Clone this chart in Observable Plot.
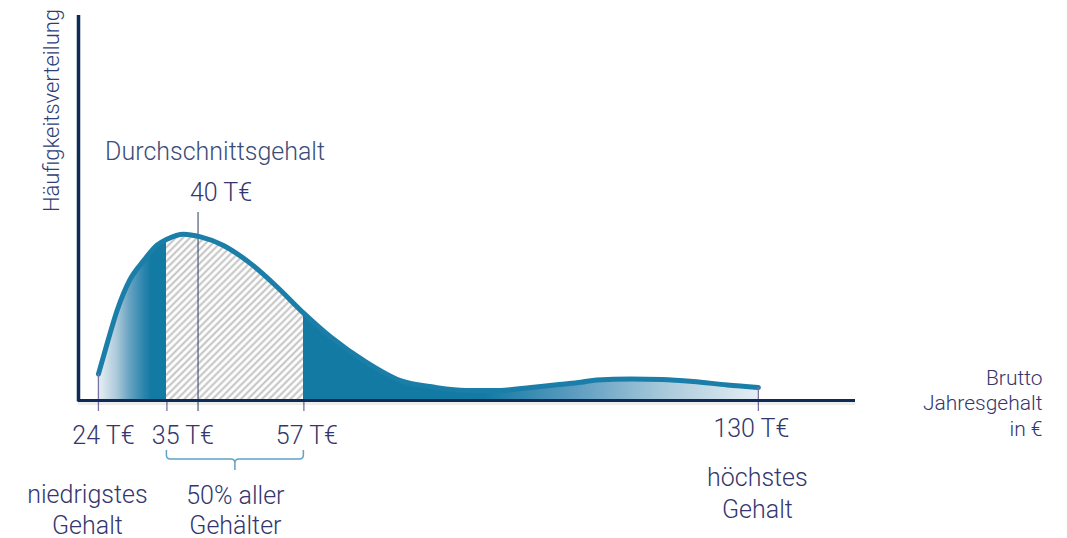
<!DOCTYPE html>
<html>
<head>
<meta charset="utf-8">
<script src="https://cdn.jsdelivr.net/npm/d3@7"></script>
<script src="https://cdn.jsdelivr.net/npm/@observablehq/plot@0.6"></script>
<style>
  html, body { margin: 0; padding: 0; background: #fff; }
  #chart svg { display: block; }
</style>
</head>
<body>
<div id="chart"></div>
<script>
// ---- data ----
const salary = [24, 25.4, 27, 29, 31.3, 33.4, 35, 37.7, 40.4, 44, 48.4, 52.7, 57, 61.3, 67, 72.5, 78, 83, 88.5, 93.5, 98, 101.5, 104, 109.5, 114.5, 119.5, 125, 130];
const freq   = [16, 34.5, 54.5, 72.7, 84.8, 94, 97.6, 100.6, 99, 94, 83, 68.7, 52.7, 38.4, 23.2, 12, 8, 6.1, 6.1, 7.9, 9.7, 11, 12.4, 13, 12.7, 11.5, 9.4, 7.9];
const markedSalaries = [24, 35, 57, 130];
const markedLabels = ["24 T€", "35 T€", "57 T€", "130 T€"];
const averageSalary = 40;
const averageLabel = "40 T€";
const averageTitle = "Durchschnittsgehalt";
const quartileRange = [35, 57];
const quartileLabel = "50% aller\nGehälter";
const lowLabel = "niedrigstes\nGehalt";
const highLabel = "höchstes\nGehalt";
const yTitle = "Häufigkeitsverteilung";
const xTitle = "Brutto\nJahresgehalt\nin €";

// scale extents
const xDomain = [20.8, 145.6];
const yDomain = [0, 233];

const table = salary.map((s, i) => ({salary: s, freq: freq[i]}));
const ends = [table[0], table[table.length - 1]];

const FONT = "Roboto, 'Liberation Sans', sans-serif";
const TXT = "#35366e";
const TEAL = "#137aa3";
const CURVE = "monotone-x";

const textBase = {fontFamily: FONT, fontWeight: 300, fill: TXT, lineAnchor: "bottom"};

const plot = Plot.plot({
  width: 1067,
  height: 538,
  marginLeft: 78,
  marginRight: 212,
  marginTop: 15,
  marginBottom: 138,
  x: {domain: xDomain, axis: null},
  y: {domain: yDomain, axis: null},
  style: {background: "#fff", overflow: "visible", fontFamily: FONT},
  marks: [
    // hatched layer (visible only where the gradient layer is transparent)
    Plot.areaY(table, {x: "salary", y: "freq", curve: CURVE, fill: "url(#hatch)"}),
    // gradient / solid teal layer
    Plot.areaY(table, {x: "salary", y: "freq", curve: CURVE, fill: "url(#areaGrad)"}),
    // average line
    Plot.ruleX([averageSalary], {stroke: "#2b3b62", strokeWidth: 1, insetTop: 197, insetBottom: -11}),
    // curve
    Plot.line(table, {x: "salary", y: "freq", curve: CURVE, stroke: "#1a7ea8", strokeWidth: 5}),
    // ticks
    Plot.ruleX(quartileRange, {y1: 0, y2: 0, insetBottom: -11, stroke: "#7674a6", strokeWidth: 1.3}),
    Plot.ruleX(ends, {x: "salary", y1: "freq", y2: 0, insetBottom: -11, stroke: "#7674a6", strokeWidth: 1.3}),
    // axis shadow + axes
    Plot.ruleY([0], {stroke: "#000", strokeOpacity: 0.07, strokeWidth: 3, dy: 3}),
    Plot.ruleY([0], {stroke: "#0c2b55", strokeWidth: 3}),
    Plot.ruleX([xDomain[0]], {stroke: "#0c2b55", strokeWidth: 3.5, insetBottom: -1.5}),
    // tick labels
    Plot.text([markedSalaries[0]], {...textBase, x: d => d, text: [markedLabels[0]], frameAnchor: "bottom", dy: 43, dx: 5, fontSize: 25}),
    Plot.text([markedSalaries[1]], {...textBase, x: d => d, text: [markedLabels[1]], frameAnchor: "bottom", dy: 43, dx: 16, fontSize: 25}),
    Plot.text([markedSalaries[2]], {...textBase, x: d => d, text: [markedLabels[2]], frameAnchor: "bottom", dy: 43, dx: 3, fontSize: 25}),
    Plot.text([markedSalaries[3]], {...textBase, x: d => d, text: [markedLabels[3]], frameAnchor: "bottom", dy: 36, dx: -7, fontSize: 25}),
    // average labels
    Plot.text([averageSalary], {...textBase, x: d => d, text: [averageLabel], frameAnchor: "top", dy: 185, dx: 23, fontSize: 25}),
    Plot.text([averageSalary], {...textBase, x: d => d, text: [averageTitle], frameAnchor: "top", dy: 144, dx: 17, fontSize: 25, fill: "#3a4d78"}),
    // lower annotations
    Plot.text([markedSalaries[0]], {...textBase, x: d => d, text: [lowLabel], frameAnchor: "bottom", dy: 133, dx: -11, fontSize: 25, lineHeight: 1.24}),
    Plot.text([d3.mean(quartileRange)], {...textBase, x: d => d, text: [quartileLabel], frameAnchor: "bottom", dy: 133, fontSize: 25, lineHeight: 1.2}),
    Plot.text([markedSalaries[3]], {...textBase, x: d => d, text: [highLabel], frameAnchor: "bottom", dy: 117, dx: -1, fontSize: 25, lineHeight: 1.28}),
    // axis titles
    Plot.text([xTitle], {...textBase, text: d => d, frameAnchor: "bottom-right", dx: 187, dy: 35, textAnchor: "end", fontSize: 21, lineHeight: 1.2}),
    Plot.text([yTitle], {fontFamily: FONT, fontWeight: 300, fill: "#2f3e78", text: d => d, frameAnchor: "top-left", dx: -27, dy: 95, rotate: -90, fontSize: 22, lineAnchor: "middle", textAnchor: "middle"})
  ]
});

// defs: gradient for the filled area and hatch pattern
const sx = plot.scale("x");
const x0 = sx.apply(markedSalaries[0]);
const x1 = sx.apply(markedSalaries[3]);
const off = v => ((v - markedSalaries[0]) / (markedSalaries[3] - markedSalaries[0])).toFixed(4);
const stops = [
  [24, "#e9f1f6", 1], [27, "#acc9da", 1], [29, "#6aa3c2", 1], [31.3, "#2c86ae", 1], [32.5, TEAL, 1],
  [quartileRange[0], TEAL, 1], [quartileRange[0], TEAL, 0], [quartileRange[1], TEAL, 0], [quartileRange[1], TEAL, 1],
  [86, TEAL, 1], [100, "#5a9bbf", 1], [115, "#a9c9db", 1], [130, "#e4eef4", 1]
];
const svg = d3.select(plot);
const defs = svg.insert("defs", ":first-child");
const grad = defs.append("linearGradient").attr("id", "areaGrad")
  .attr("gradientUnits", "userSpaceOnUse").attr("x1", x0).attr("x2", x1).attr("y1", 0).attr("y2", 0);
stops.forEach(([v, c, o]) => grad.append("stop").attr("offset", off(v)).attr("stop-color", c).attr("stop-opacity", o));
const pat = defs.append("pattern").attr("id", "hatch").attr("patternUnits", "userSpaceOnUse")
  .attr("width", 5).attr("height", 5).attr("patternTransform", "rotate(45)");
pat.append("rect").attr("width", 5).attr("height", 5).attr("fill", "#fff");
pat.append("line").attr("x1", 2.5).attr("x2", 2.5).attr("y1", 0).attr("y2", 5).attr("stroke", "#bebebe").attr("stroke-width", 1.9);

// brace under the 50% range (drawn with the plot's x scale)
const bx0 = sx.apply(quartileRange[0]), bx1 = sx.apply(quartileRange[1]), bxm = sx.apply(d3.mean(quartileRange));
const yTop = 450, yMid = 459, yTip = 470;
const p = `M${bx0},${yTop} L${bx0},${yMid - 4} Q${bx0},${yMid} ${bx0 + 4},${yMid} L${bxm - 4},${yMid} Q${bxm},${yMid} ${bxm},${yMid + 4} L${bxm},${yTip} M${bxm},${yMid + 4} Q${bxm},${yMid} ${bxm + 4},${yMid} L${bx1 - 4},${yMid} Q${bx1},${yMid} ${bx1},${yMid - 4} L${bx1},${yTop}`;
svg.append("path").attr("d", p).attr("fill", "none").attr("stroke", "#5fa2c6").attr("stroke-width", 1.5);

document.getElementById("chart").appendChild(plot);
</script>
</body>
</html>
